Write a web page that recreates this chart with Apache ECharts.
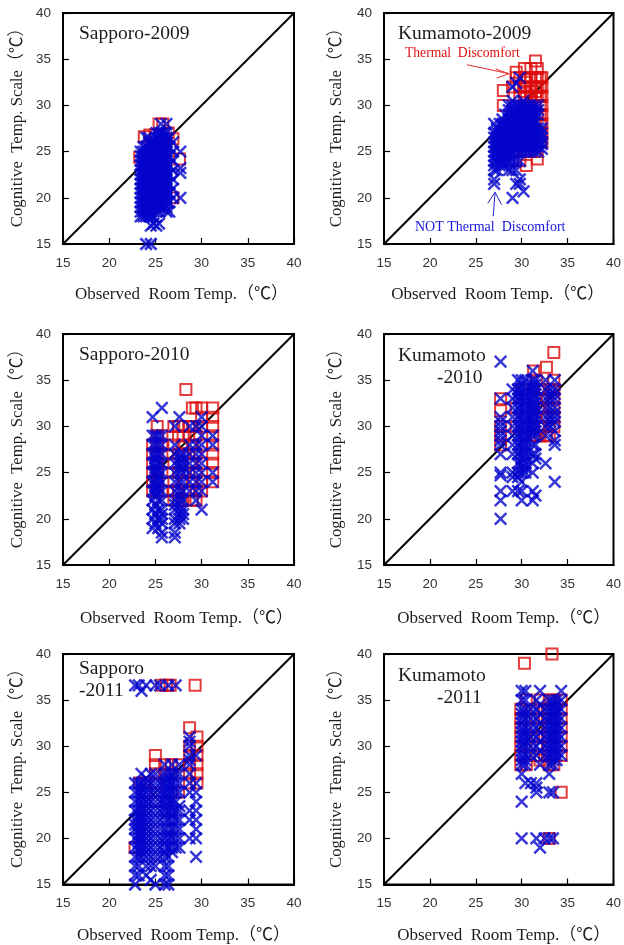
<!DOCTYPE html>
<html><head><meta charset="utf-8">
<style>html,body{margin:0;padding:0;background:#fff}#c{width:624px;height:945px}</style>
<script src="https://cdn.jsdelivr.net/npm/echarts@6/dist/echarts.min.js"></script>
</head><body><div id="c"></div>
<script>
// Each row is one vertical column of readings: [room temp, cognitive temp, cognitive temp, ...]
const axisMin = 15, axisMax = 40, axisStep = 5;
const diagonal = [[15,15],[40,40]];
const panelTitles = ['Sapporo-2009','Kumamoto-2009','Sapporo-2010','Kumamoto\n        -2010','Sapporo\n-2011','Kumamoto\n        -2011'];
const xAxisTitle = 'Observed  Room Temp.（℃）';
const yAxisTitle = 'Cognitive  Temp. Scale（℃）';

const sapporo2009Red = [[23.3,24.4],[23.8,26.6],[24.4,26.8],[25,26.8],[25.4,28],[25.8,28],[26.4,27],[26.9,26.4],[27.6,24.2],[26.9,20]];
const sapporo2009Blue = [
 [23.4,18,18.5,19,19.5,20,20.5,21,21.5,22,22.5,23,23.5,24,24.5,25],
 [23.7,18,18.5,19,19.5,20,20.5,21,21.5,22,22.5,23,23.5,24,24.5,25,25.5],
 [24,18,18.5,19,19.5,20,20.5,21,21.5,22,22.5,23,23.5,24,24.5,25,25.5,26.5,15],
 [24.3,18,18.5,19,19.5,20,20.5,21,21.5,22,22.5,23,23.5,24,24.5,25,26,26.5],
 [24.5,15,17,18,18.5,19,19.5,20,20.5,21,21.5,22,22.5,23,23.5,24,24.5,25,25.5,26],
 [24.8,17.2,18,18.5,19,19.5,20,20.5,21,21.5,22,22.5,23,23.5,24,24.5,25,25.5,26],
 [25.1,17,18.5,19,19.5,20,20.5,21,21.5,22,22.5,23,23.5,24,24.5,25,25.5,26,26.5,27],
 [25.4,17.2,18.5,19,19.5,20,20.5,21,21.5,22,22.5,23,23.5,24,24.5,25,25.5,26,26.5,27],
 [25.6,19,19.5,20,20.5,21,21.5,22,22.5,23,23.5,24,24.5,25,25.5,26,26.5,27,28],
 [25.9,19,19.5,20,20.5,21,21.5,22,22.5,23,23.5,24,24.5,25,25.5,26,26.5,27],
 [26.2,18.5,19,19.5,20,20.5,21,21.5,22,22.5,23,23.5,24,24.5,25,25.5,26,26.5,27,28],
 [26.5,18.5,19.5,20.5,21.5,22.5,23.5,24.5,25.5,26.5],
 [26.9,20,21,22,23,24,25,26],
 [27.7,20,22.7,23.2,25]
];
const kumamoto2009Red = [
 [28,30,31.6],[29,24,32],[29.4,25,33.6,33],[29.8,24,26,28,31,32,33],[30.3,25,27,29,31,31.5,32,32.5,33,34],[30.5,23.5,26,28,30,31,32,33],
 [31,25,27,29,30.5,31,31.5,32,33,34],[31.5,25,26,28,30,31,31.5,32,33,34.8],[31.7,24.2,27,29,31,32,33,34],[32,26,27,28,29,30,31,32,33],[32.2,26,27,28,29,30,31,32,33]
];
const kumamoto2009Blue = [
 [27,23,23.5,24,24.5,25,25.5,26,26.5,27,28,22,21.5],
 [27.3,23,24,24.5,25,25.5,26,26.5,27,27.5],
 [27.6,23.5,24,24.5,25,25.5,26,26.5,27,28],
 [27.9,23.5,24,24.5,25,25.5,26,26.5,27,28,28.5],
 [28.2,23.5,24,24.5,25,25.5,26,26.5,27,27.5,28,29],
 [28.6,23,24,24.5,25,25.5,26,26.5,27,27.5,28,28.5,29,29.5,30],
 [29,20,23,24,25,25.5,26,26.5,27,27.5,28,28.5,29,29.5,30,30.5,32],
 [29.4,21.5,23,24,25,25.5,26,26.5,27,27.5,28,28.5,29,29.5,30,32.4],
 [29.8,21.5,22,24,25,25.5,26,26.5,27,27.5,28,28.5,29,29.5,30,33],
 [30.2,20.7,25,25.5,26,26.5,27,27.5,28,28.5,29,29.5,30,30.5],
 [30.6,25,25.5,26,26.5,27,27.5,28,28.5,29,29.5,30],
 [31,25,25.5,26,26.5,27,27.5,28,28.5,29,29.5,30],
 [31.4,25,25.5,26,26.5,27,27.5,28,28.5,29,29.5,30],
 [31.8,25,25.5,26,26.5,27,27.5,29,29.5,30],
 [32.2,25.3,25.8,26,26.5,27,27.5]
];
const sapporo2010Red = [
 [24.7,23,24,25,26,27,28],[25.2,23,24,25,26,27,28,29,30],[25.7,23,25,27,28,29],
 [27,22,23,24,26,28,30],[27.5,22,23,25,27,29,30],[28,22,24,25,27,28,29,30],[28.3,34],[28.6,23,25,27,29,30],
 [29,22,24,26,28,30,32],[29.4,22,23,25,27,29,32],[30,23,24,26,28,30,31,32],[31.2,24,25,26,27,28,29,30,31,32]
];
const sapporo2010Blue = [
 [24.7,19,20,21,22,23,24,25,26,27,28,29,31],
 [25,19.5,20.5,21.5,22.5,23,23.5,24,25,25.5,26,26.5,27,28,29],
 [25.3,19,20,21,22,23,23.5,24,24.5,25,26,27,28,29],
 [25.7,18,18.5,19.5,20,20.5,21,22,23,24,25,26,27,28,29,32],
 [27.1,18,18.5,19.5,20,21,21.5,22,23,24,25,26,27,28,30],
 [27.6,19.5,20,20.5,21,21.5,22,22.5,23,24,25,25.5,26,26.5,27,31],
 [28,20,20.5,21,22,23,24,25,25.5,26,26.5,27],
 [28.7,23,24,25,26,27,28,30],
 [29.4,22,23,24,25,26,27,28,30],
 [30,21,23,24,25,26,27,28,29,30,31],
 [31.2,24,25,28,29]
];
const kumamoto2010Red = [
 [27.7,28,29,30,31.7,33],[29.4,30,32],[30,30,34],[30.2,34],[31.3,29,30,32,34,36],[31.6,29,31,33,35],[32,29,30,32,34],
 [32.7,29,31,33,36.4],[33,29,30,32,34],[33.5,30,31,32,33,34,35,38]
];
const kumamoto2010Blue = [
 [27.7,20,22,23,24.7,25,27,28,28.5,29,29.5,30,30.5,31,33,37],
 [29,23,24.5,25,27,28,29,30,31,32,33,34],
 [29.6,23,24.5,25,26,27,28,29,30,31,32,33,33.5,34,35],
 [30,22,23,24,25,25.5,26,26.5,27,27.5,28,28.5,29,29.5,30,30.5,31,31.5,32,32.5,33,33.5,34,34.5,35],
 [30.4,25,25.5,26,26.5,27,27.5,28,28.5,29,29.5,30,30.5,31,31.5,32,32.5,33,33.5,34,35],
 [31.2,22,23,25,26,27,28,29,29.5,30,30.5,31,31.5,32,32.5,33,33.5,34,34.5,35,36],
 [31.5,22.5,26.5,27,28,29,29.5,30,30.5,31,31.5,32,32.5,33,33.5,34,34.5,35],
 [32.6,26,29,30,31,32,33,34,35],
 [33.1,30,30.5,31,32,33,33.5,34],
 [33.6,24,28,28.5,29.5,30.5,31,31.5,32,33,33.5,34,35]
];
const sapporo2011Red = [
 [22.8,19],[23.3,26],[24,25,26],[25,24,26,27,28,29],[25.7,36.6],[26,27,28],[26.2,36.6],[26.6,36.6],[26.7,25,27,28],[27.5,25,28],
 [28.7,26,27,28,29,30,32],[29.3,36.6],[29.5,26,27,28,29,30,31]
];
const sapporo2011Blue = [
 [22.8,15,16,17,18,19,20,21,21.5,22,23,24,25,26,36.6],
 [23.2,16,17,18,19,19.5,20,20.5,21,21.5,22,22.5,23,24,25,26,36.6],
 [23.5,18,18.5,19,19.5,20,20.5,21,21.5,22,22.5,23,23.5,24,24.5,25,25.5,26,27,36],
 [24,16,17,18,18.5,19,19.5,20,20.5,21,21.5,22,22.5,23,23.5,24,24.5,25,25.5,26,26.5,36.6],
 [24.5,15.5,17,18,19,20,21,22,23,24,25,26,27],
 [25,15,17,18,19,20,21,22,23,24,25,26,27,36.6],
 [25.5,18,19,20,21,22,23,24,25,26,36.6],
 [26,15,16,17,18,18.5,19,19.5,20,21,22,22.5,23,23.5,24,24.5,25,25.5,26,26.5,27,28],
 [26.4,15,16,17,18,19,20,20.5,21,22,23,23.5,24,24.5,25,25.5,26,26.5,27,36.6],
 [26.8,18.5,19,20,21,22,22.5,23,24,25,26,27,28],
 [27.2,19,20,21,22,23,24,25,26,27,36.6],
 [27.6,19,20,21,22,23,23.5,25,26,27,28],
 [28.7,20,22,23,25,26,27,28,28.5,29,30,30.5,31],
 [29.4,18,20,21,22,23,24,25,26,29]
];
const kumamoto2011Red = [
 [29.9,28,29,30,31,32,33,34],[30.3,39],[30.5,28,35],[31.6,29,30,31,32,33,34],[32,28.5,35],[32.5,29,31,33,34],
 [33,20,28,29,30,31,32,33,34,35],[33.3,40],[33.5,28,35],[34.3,25,29,30,31,32,33,34,35]
];
const kumamoto2011Blue = [
 [30,20,24,27,28,28.5,29,29.5,30,30.5,31,31.5,32,32.5,33,33.5,34,35,36],
 [30.4,26,28,28.5,29,30,30.5,31,31.5,32,33,33.5,34,35,36],
 [31,26,29,30,31,32,33,34],
 [31.6,20,25,25.5,26,29,30,31,32,33,34,35],
 [32,19,28,29.5,30.5,31.5,32.5,33.5,34.5,36],
 [32.5,20,29,30,31,32,33,34],
 [33,20,25,27,28,29,30,31,32,33,34,35],
 [33.4,20,25,28,28.5,29,29.5,30,30.5,31,31.5,32,32.5,33,33.5,34,34.5,35],
 [33.8,28.5,29,29.5,30,30.5,31,31.5,32,32.5,33,33.5,34,34.5,35],
 [34.3,29,30,31,32,33,34,35,36]
];
const panelReds = [sapporo2009Red,kumamoto2009Red,sapporo2010Red,kumamoto2010Red,sapporo2011Red,kumamoto2011Red];
const panelBlues = [sapporo2009Blue,kumamoto2009Blue,sapporo2010Blue,kumamoto2010Blue,sapporo2011Blue,kumamoto2011Blue];
const redArrow = [[24.03,34.4],[28.62,33.43]];
const redArrowBarbs = [[27.17,33.94],[27.28,32.97]];
const blueArrow = [[26.9,18],[27.1,20.6]];
const blueArrowBarbs = [[26.3,19.4],[27.8,19.26]];

const RED='#dd0c0c', BLUE='#0505cc', INK='#1c1c1c';
const SERIF='"Liberation Serif","Noto Sans CJK JP",serif';
const expand = rows => rows.flatMap(r => r.slice(1).map(y => [r[0], y]));
const CROSS='path://M0 0L10 10M10 0L0 10';
// left, top, name x shift, x name gap, y name gap
const layout = [[63,13,3,51,45],[384,13,-1,51,47],[63,334,8,54,45],[384,334,5,54,47],[63,654,5,51,45],[384,654,5,51,47]];
const titleTop = [23,23,344,345,658,665];
const W=231, H=231;
const grid=[],xAxis=[],yAxis=[],series=[],graphic=[];
layout.forEach((p,i)=>{
  grid.push({left:p[0],top:p[1],width:W,height:H,show:true,borderColor:'#000',borderWidth:2,backgroundColor:'transparent'});
  const ax={min:axisMin,max:axisMax,interval:axisStep,gridIndex:i,type:'value',splitLine:{show:false},
    axisLine:{show:true,lineStyle:{color:'#000',width:2}},axisTick:{show:true,inside:true,length:6,lineStyle:{color:'#000',width:1.2}},
    axisLabel:{fontFamily:'"Liberation Sans",Arial,sans-serif',fontSize:13.5,color:'#333',margin:12},
    nameLocation:'middle'};
  const nameStyle={fontFamily:SERIF,color:INK,verticalAlign:'middle'};
  xAxis.push({...ax,name:xAxisTitle,nameGap:p[3],nameTextStyle:{...nameStyle,fontSize:17,padding:p[2]>0?[0,0,0,p[2]*2]:[0,-p[2]*2,0,0]}});
  yAxis.push({...ax,name:yAxisTitle,nameGap:p[4],nameTextStyle:{...nameStyle,fontSize:16.8,padding:[0,0,0,10]}});
  series.push({type:'line',xAxisIndex:i,yAxisIndex:i,data:diagonal,symbol:'none',silent:true,z:1,lineStyle:{color:'#000',width:2}});
  series.push({type:'scatter',xAxisIndex:i,yAxisIndex:i,data:expand(panelReds[i]),symbol:'rect',symbolSize:11,z:2,clip:false,
    itemStyle:{color:'transparent',borderColor:RED,borderWidth:2}});
  series.push({type:'scatter',xAxisIndex:i,yAxisIndex:i,data:expand(panelBlues[i]),symbol:CROSS,symbolSize:11.5,z:3,clip:false,
    itemStyle:{color:'transparent',borderColor:BLUE,borderWidth:2.5}});
  graphic.push({type:'text',left:p[0]+(i%2?14:16),top:titleTop[i],z:10,
    style:{text:panelTitles[i],font:'19.5px '+SERIF,fill:INK,lineHeight:22}});
});
const seg=(a,b,c)=>[{coord:a,lineStyle:{color:c,width:1,type:'solid'}},{coord:b}];
series.push({type:'line',xAxisIndex:1,yAxisIndex:1,data:[],z:4,markLine:{silent:true,animation:false,label:{show:false},symbol:'none',
  data:[seg(redArrow[0],redArrow[1],'#e03030'),seg(redArrowBarbs[0],redArrow[1],'#e03030'),seg(redArrowBarbs[1],redArrow[1],'#e03030'),
        seg(blueArrow[0],blueArrow[1],'#2020d0'),seg(blueArrowBarbs[0],blueArrow[1],'#2020d0'),seg(blueArrowBarbs[1],blueArrow[1],'#2020d0')]}});
graphic.push({type:'text',left:405,top:47,z:10,style:{text:'Thermal  Discomfort',font:'13.6px '+SERIF,fill:'#e01010'}});
graphic.push({type:'text',left:415,top:220,z:10,style:{text:'NOT Thermal  Discomfort',font:'14px '+SERIF,fill:'#1414e0'}});
const chart=echarts.init(document.getElementById('c'),null,{renderer:'canvas'});
chart.setOption({animation:false,backgroundColor:'#fff',grid,xAxis,yAxis,series,graphic});
</script></body></html>
